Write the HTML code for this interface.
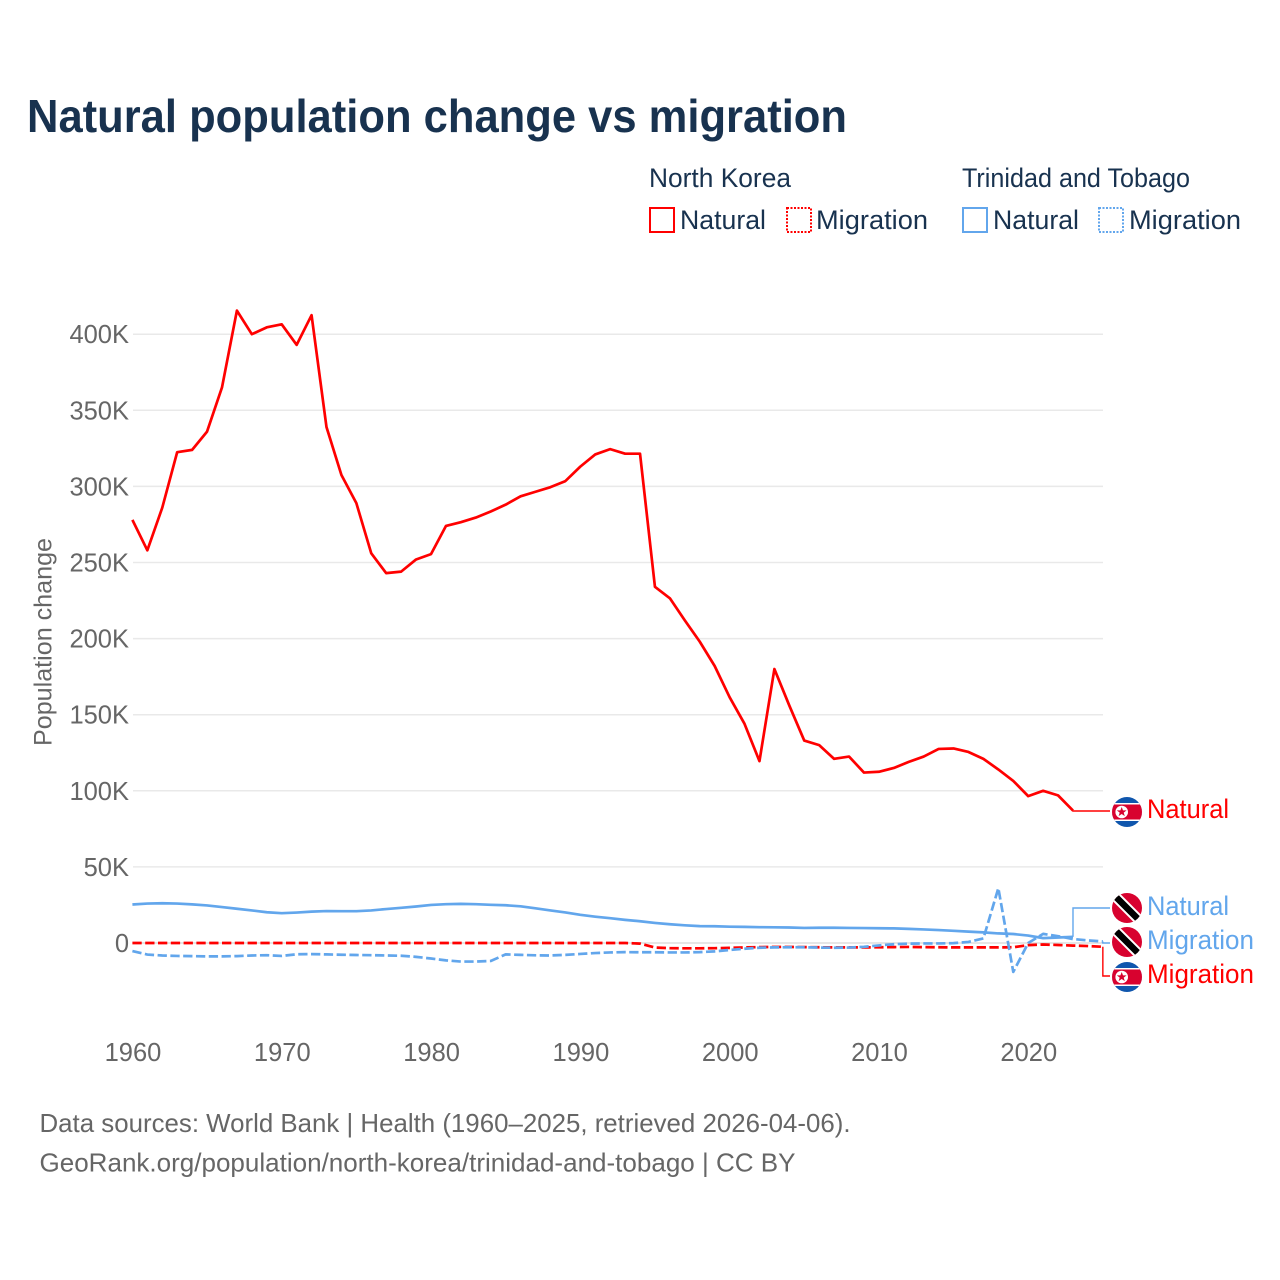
<!DOCTYPE html>
<html lang="en">
<head>
<meta charset="utf-8">
<title>Natural population change vs migration</title>
<style>
html,body{margin:0;padding:0;background:#fff;}
svg{display:block;font-family:"Liberation Sans",Arial,sans-serif;}
</style>
</head>
<body>
<svg id="chart" xmlns="http://www.w3.org/2000/svg" width="1280" height="1280" viewBox="0 0 1280 1280">
  <defs>
    <clipPath id="flag-clip"><circle cx="0" cy="0" r="15"></circle></clipPath>
  </defs>
  <rect x="0" y="0" width="1280" height="1280" fill="#ffffff"></rect>
  <text x="27" y="132" font-size="46" font-weight="700" fill="#18324f" textLength="820" lengthAdjust="spacingAndGlyphs">Natural population change vs migration</text>

  <g font-size="26.5" fill="#18324f">
    <text x="649" y="187" textLength="142" lengthAdjust="spacingAndGlyphs">North Korea</text>
    <text x="962" y="187" textLength="228" lengthAdjust="spacingAndGlyphs">Trinidad and Tobago</text>
    <rect x="650" y="208" width="24" height="24" fill="none" stroke="#ff0000" stroke-width="2"></rect>
    <text x="680" y="229" textLength="86" lengthAdjust="spacingAndGlyphs">Natural</text>
    <rect x="787" y="208" width="24" height="24" fill="none" stroke="#ff0000" stroke-width="2" stroke-dasharray="2 1.5"></rect>
    <text x="816" y="229" textLength="112" lengthAdjust="spacingAndGlyphs">Migration</text>
    <rect x="963" y="208" width="24" height="24" fill="none" stroke="#62a6ec" stroke-width="2"></rect>
    <text x="993" y="229" textLength="86" lengthAdjust="spacingAndGlyphs">Natural</text>
    <rect x="1099" y="208" width="24" height="24" fill="none" stroke="#62a6ec" stroke-width="2" stroke-dasharray="2 1.5"></rect>
    <text x="1129" y="229" textLength="112" lengthAdjust="spacingAndGlyphs">Migration</text>
  </g>

  <text transform="translate(51.5,642) rotate(-90)" text-anchor="middle" font-size="25" fill="#666666" textLength="208" lengthAdjust="spacingAndGlyphs">Population change</text>
  <g id="grid"></g>
  <g id="y-ticks"></g>
  <g id="x-ticks"></g>
  <g id="connectors"></g>
  <g id="series"></g>
  <g id="labels"></g>

  <text x="39.5" y="1132" font-size="26" fill="#666666" textLength="811" lengthAdjust="spacingAndGlyphs">Data sources: World Bank | Health (1960–2025, retrieved 2026-04-06).</text>
  <text x="39.5" y="1171.5" font-size="26" fill="#666666" textLength="756" lengthAdjust="spacingAndGlyphs">GeoRank.org/population/north-korea/trinidad-and-tobago | CC BY</text>
</svg>
<script>
var startYear = 1960;
var xTickYears = [1960, 1970, 1980, 1990, 2000, 2010, 2020];
var yTickValues = [0, 50000, 100000, 150000, 200000, 250000, 300000, 350000, 400000];
var yTickLabels = ["0", "50K", "100K", "150K", "200K", "250K", "300K", "350K", "400K"];

var nkNatural = [278, 258, 286, 322.5, 324, 336, 365, 415.5, 400, 404.5, 406.5, 393, 412.5, 339, 307.5, 289, 256, 243, 244, 252, 255.5, 274, 276.5, 279.5, 283.5, 288, 293.5, 296.5, 299.5, 303.5, 313, 321, 324.5, 321.5, 321.5, 234, 226.5, 212, 198, 182, 161.5, 144, 119.5, 180, 156, 133, 130, 121, 122.5, 112, 112.5, 115, 119, 122.5, 127.5, 127.8, 125.5, 121, 114, 106.5, 96.5, 100, 97, 87];
var nkMigration = [0, 0, 0, 0, 0, 0, 0, 0, 0, 0, 0, 0, 0, 0, 0, 0, 0, 0, 0, 0, 0, 0, 0, 0, 0, 0, 0, 0, 0, 0, 0, 0, 0, 0, -0.4, -3, -3.4, -3.5, -3.5, -3.4, -3.2, -2.9, -2.7, -2.6, -2.6, -2.7, -2.8, -2.9, -2.9, -2.9, -2.8, -2.7, -2.6, -2.7, -2.8, -2.9, -2.9, -2.9, -2.9, -2.8, -1.4, -1, -1.3, -1.7, -2, -2.5];
var ttNatural = [25.3, 25.9, 26.1, 25.9, 25.4, 24.7, 23.6, 22.5, 21.4, 20.2, 19.6, 20, 20.6, 21, 20.9, 20.9, 21.4, 22.3, 23.1, 24, 25, 25.5, 25.7, 25.5, 25.1, 24.8, 24.1, 22.8, 21.4, 20.1, 18.5, 17.3, 16.3, 15.2, 14.3, 13.2, 12.3, 11.6, 11.1, 11, 10.7, 10.6, 10.4, 10.3, 10.2, 9.9, 10, 10, 9.9, 9.8, 9.7, 9.6, 9.3, 8.9, 8.5, 8, 7.5, 7, 6.3, 5.9, 4.9, 3.2, 3.6, 4];
var ttMigration = [-5.3, -7.6, -8.2, -8.5, -8.6, -8.8, -8.8, -8.6, -8.2, -8, -8.5, -7.4, -7.3, -7.5, -7.7, -7.9, -8, -8.2, -8.4, -9.1, -10.2, -11.4, -12.2, -12.2, -11.8, -7.5, -7.8, -8.1, -8.2, -7.8, -7.2, -6.6, -6.2, -6, -6.1, -6.1, -6.2, -6.2, -6, -5.5, -4.6, -3.8, -3.1, -2.9, -2.8, -2.8, -3, -3.1, -3, -2.5, -1.6, -0.8, -0.4, -0.3, -0.3, -0.1, 0.7, 3, 36, -19, 0, 6, 4.5, 2.6, 1.7, 1];

var svgNS = "http://www.w3.org/2000/svg";
var RED = "#ff0000";
var BLUE = "#62a6ec";
function xScale(year) { return 132.4 + (year - startYear) * 14.93; }
function yScale(value) { return 943 - value * 0.001522; }
function make(tag, attrs, parent) {
  var el = document.createElementNS(svgNS, tag);
  for (var k in attrs) { el.setAttribute(k, attrs[k]); }
  parent.appendChild(el);
  return el;
}
var grid = document.getElementById("grid");
var yTicks = document.getElementById("y-ticks");
var xTicks = document.getElementById("x-ticks");
var seriesGroup = document.getElementById("series");
var connectors = document.getElementById("connectors");
var labels = document.getElementById("labels");

yTickValues.forEach(function (v, i) {
  if (v !== 0) {
    var line = make("line", { x1: 133, x2: 1103, y1: yScale(v), y2: yScale(v), stroke: "#e9e9e9", "stroke-width": 1.5 }, grid);
    
    
  }
  var t = make("text", { x: 129, y: yScale(v) + 9, "text-anchor": "end", "font-size": 25.5, fill: "#666666" }, yTicks);
  
  
  t.textContent = yTickLabels[i];
});
var zeroLine = make("line", { x1: 133, x2: 1103, y1: yScale(0), y2: yScale(0), stroke: "#dddddd", "stroke-width": 1.5 }, grid);



xTickYears.forEach(function (y) {
  var t = make("text", { x: xScale(y) + 0.6, y: 1061, "text-anchor": "middle", "font-size": 25.5, fill: "#666666" }, xTicks);
  
  
  t.textContent = String(y);
});

function pathFor(values) {
  return values.map(function (v, i) {
    return (i ? "L" : "M") + xScale(startYear + i).toFixed(2) + " " + yScale(v * 1000).toFixed(2);
  }).join("");
}

var ttNatLine = make("path", { d: pathFor(ttNatural), fill: "none", stroke: BLUE, "stroke-width": 2.7, "stroke-linejoin": "round" }, seriesGroup);


var nkMigLine = make("path", { d: pathFor(nkMigration), fill: "none", stroke: RED, "stroke-width": 2.7, "stroke-dasharray": "9.3 3.5", "stroke-linejoin": "round" }, seriesGroup);


var ttMigLine = make("path", { d: pathFor(ttMigration), fill: "none", stroke: BLUE, "stroke-width": 2.7, "stroke-dasharray": "9.3 3.5", "stroke-linejoin": "round" }, seriesGroup);


var nkNatLine = make("path", { d: pathFor(nkNatural), fill: "none", stroke: RED, "stroke-width": 2.7, "stroke-linejoin": "round" }, seriesGroup);



function connector(values, slotY, color) {
  var i = values.length - 1;
  var ex = xScale(startYear + i);
  var ey = yScale(values[i] * 1000);
  var c = make("path", { d: "M" + ex + " " + ey + "V" + slotY + "H1110", fill: "none", stroke: color, "stroke-width": 1.4 }, connectors);
  
  
}
connector(nkNatural, 811, RED);
connector(ttNatural, 908, BLUE);
connector(ttMigration, 943, BLUE);
connector(nkMigration, 976, RED);

function koreaFlag(cy) {
  var g = make("g", { transform: "translate(1127," + cy + ")", "clip-path": "url(#flag-clip)" }, labels);
  
  
  make("rect", { x: -15, y: -15, width: 30, height: 30, fill: "#0f56ad" }, g);
  make("rect", { x: -15, y: -9, width: 30, height: 18, fill: "#ffffff" }, g);
  make("rect", { x: -15, y: -7.5, width: 30, height: 15, fill: "#d8022f" }, g);
  make("circle", { cx: -5.3, cy: 0, r: 6.3, fill: "#ffffff" }, g);
  make("polygon", { points: "-5.3,-5 -4,-1.6 -0.4,-1.6 -3.3,0.6 -2.2,4.1 -5.3,2 -8.4,4.1 -7.3,0.6 -10.2,-1.6 -6.6,-1.6", fill: "#d8022f" }, g);
}
function trinidadFlag(cy) {
  var g = make("g", { transform: "translate(1127," + cy + ")", "clip-path": "url(#flag-clip)" }, labels);
  
  
  make("rect", { x: -15, y: -15, width: 30, height: 30, fill: "#d8022f" }, g);
  make("line", { x1: -15, y1: -15, x2: 15, y2: 15, stroke: "#ffffff", "stroke-width": 10.5 }, g);
  make("line", { x1: -15, y1: -15, x2: 15, y2: 15, stroke: "#000000", "stroke-width": 6.5 }, g);
}
koreaFlag(812);
trinidadFlag(908);
trinidadFlag(942);
koreaFlag(977);

function endLabel(text, y, w, color) {
  var t = make("text", { x: 1147, y: y, "font-size": 26.5, fill: color, textLength: w, lengthAdjust: "spacingAndGlyphs" }, labels);
  
  
  t.textContent = text;
}
endLabel("Natural", 818, 82, RED);
endLabel("Natural", 915, 82, BLUE);
endLabel("Migration", 949, 107, BLUE);
endLabel("Migration", 983, 107, RED);
</script>
</body>
</html>
